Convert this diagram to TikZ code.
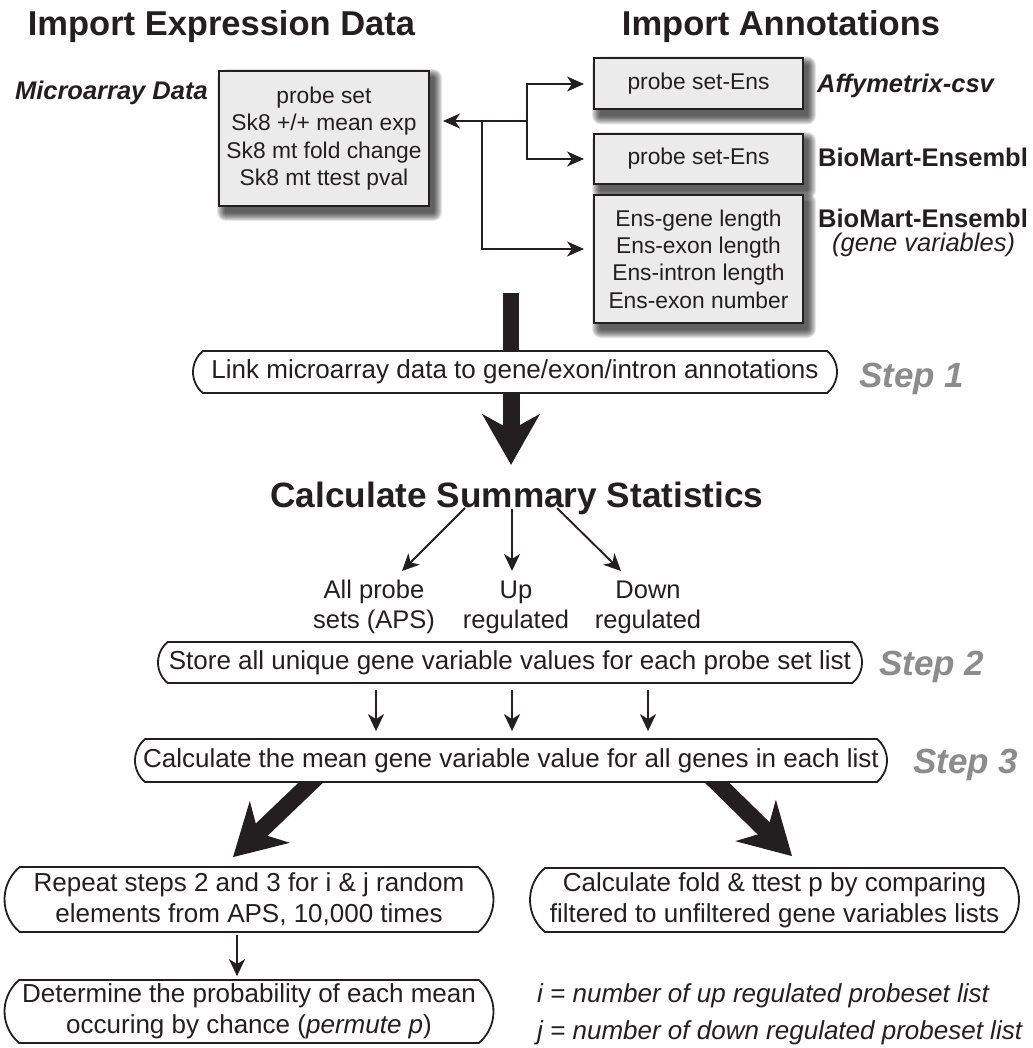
\documentclass[tikz,border=0pt]{standalone}
\usepackage{fontspec}
\setmainfont{Liberation Sans}
\usetikzlibrary{arrows.meta,shapes.misc,calc}
\pgfdeclarelayer{background}
\pgfsetlayers{background,main}
\definecolor{boxfill}{HTML}{EBEBEB}
\definecolor{stepgray}{HTML}{8C8C8C}
\definecolor{ink}{HTML}{231F20}
\begin{document}
\begin{tikzpicture}[x=1pt,y=-1pt,
  every node/.style={inner sep=0pt, text=ink},
  databox/.style={draw=ink, fill=boxfill, line width=2pt, align=center, font=\fontsize{22.8}{27.3}\selectfont},
  stepbox/.style={rounded rectangle, rounded rectangle arc length=100, draw=ink, line width=1.8pt, fill=white, align=center, font=\fontsize{26}{31}\selectfont},
  title/.style={font=\fontsize{34.5}{40}\selectfont\bfseries, anchor=base},
  srclabel/.style={font=\fontsize{25.5}{30}\selectfont\bfseries, anchor=base west},
  steplabel/.style={font=\fontsize{35}{40}\selectfont\bfseries\itshape, text=stepgray, anchor=base west},
  sublabel/.style={font=\fontsize{25.5}{30}\selectfont, align=center},
  note/.style={font=\fontsize{26}{31}\selectfont\itshape, anchor=base west},
  conn/.style={draw=ink, line width=2pt, -{Stealth[length=17pt,width=15pt,inset=5pt]}},
  arr/.style={draw=ink, line width=1.9pt, -{Stealth[length=17pt,width=16pt,inset=5pt]}},
  bigarr/.style={draw=ink, line width=17pt, -{Stealth[length=51pt,width=58pt,inset=16pt,line width=0pt]}}
]
\useasboundingbox (0,0) rectangle (1032,1048);

% titles
\node[title] (t1) at (221.5,36) {Import Expression Data};
\node[title] (t2) at (781,36) {Import Annotations};

% data boxes
\node[databox, minimum width=210pt, minimum height=135pt] (mbox) at (324,138.5)
  {probe set\\Sk8 +/+ mean exp\\Sk8 mt fold change\\Sk8 mt ttest pval};
\node[databox, minimum width=209pt, minimum height=51pt] (ab1) at (698.5,84) {probe set-Ens};
\node[databox, minimum width=209pt, minimum height=50pt] (ab2) at (698.5,159) {probe set-Ens};
\node[databox, minimum width=209pt, minimum height=128pt] (ab3) at (698.5,259)
  {Ens-gene length\\Ens-exon length\\Ens-intron length\\Ens-exon number};

\begin{pgfonlayer}{background}
\foreach \b in {mbox,ab1,ab2,ab3}{
  \foreach \i in {1,...,9}{
    \fill[black,opacity=0.1,rounded corners=\i pt] ($(\b.north west)+(8-\i,8-\i)$) rectangle ($(\b.south east)+(3+\i,5+\i)$);
  }
}
\end{pgfonlayer}

% source labels
\node[srclabel, anchor=base east] (mdl) at (208,100) {\itshape Microarray Data};
\node[srclabel] (l1) at (817,93) {\itshape Affymetrix-csv};
\node[srclabel] (l2) at (818,167) {BioMart-Ensembl};
\node[srclabel] (l3) at (818,228) {BioMart-Ensembl};
\node[srclabel, font=\fontsize{25.5}{30}\selectfont\itshape] (l4) at (832,252) {(gene variables)};

% bracket connectors
\coordinate (jA) at (527,121);
\coordinate (jB) at (482,121);
\coordinate (a3) at ($(ab3.west)+(0,-10)$);
\draw[conn, shorten >=13pt] (jA) -- (jA -| mbox.east);
\draw[conn, shorten >=9pt] (jA) -- (jA |- ab1.west) -- (ab1.west);
\draw[conn, shorten >=9pt] (jA) -- (jA |- ab2.west) -- (ab2.west);
\draw[conn, shorten >=9pt] (jB) -- (jB |- a3) -- (a3);

% step 1
\coordinate (barTop) at (511,293);
\node[stepbox, minimum width=644pt, minimum height=42pt] (o1) at (515,372)
  {Link microarray data to gene/exon/intron annotations};
\node[steplabel] (st1) at (859,387) {Step 1};
\node[title, font=\fontsize{35.2}{40}\selectfont\bfseries] (calc) at (517,507) {Calculate Summary Statistics};
\begin{pgfonlayer}{background}
\draw[draw=ink, line width=16pt] (barTop) -- ($(barTop |- o1.north)+(0,5)$);
\draw[bigarr] ($(o1.south -| barTop)+(0,-5)$) -- ($(o1.south -| barTop)+(0,71)$);
\end{pgfonlayer}

% three lists
\coordinate (s1) at (465,508); \coordinate (e1) at (402,571);
\coordinate (s2) at (512,509); \coordinate (e2) at (512,571);
\coordinate (s3) at (557,508); \coordinate (e3) at (621,571);
\draw[arr] (s1) -- (e1);
\draw[arr] (s2) -- (e2);
\draw[arr] (s3) -- (e3);
\node[sublabel] (lab1) at (374,607) {All probe\\sets (APS)};
\node[sublabel] (lab2) at (516,607) {Up\\regulated};
\node[sublabel] (lab3) at (648,607) {Down\\regulated};

% step 2 and 3
\node[stepbox, minimum width=704pt, minimum height=41pt] (o2) at (510,662.5)
  {Store all unique gene variable values for each probe set list};
\node[steplabel] (st2) at (879,675) {Step 2};
\node[stepbox, minimum width=752pt, minimum height=43pt] (o3) at (511,760.5)
  {Calculate the mean gene variable value for all genes in each list};
\node[steplabel] (st3) at (913,773) {Step 3};
\coordinate (c1) at (376,0);
\coordinate (c2) at (512,0);
\coordinate (c3) at (648,0);
\draw[arr, shorten <=6pt, shorten >=7pt] (o2.south -| c1) -- (o3.north -| c1);
\draw[arr, shorten <=6pt, shorten >=7pt] (o2.south -| c2) -- (o3.north -| c2);
\draw[arr, shorten <=6pt, shorten >=7pt] (o2.south -| c3) -- (o3.north -| c3);

% bottom
\node[stepbox, minimum width=489pt, minimum height=65pt] (o4) at (249,899.5)
  {Repeat steps 2 and 3 for i \& j random\\elements from APS, 10,000 times};
\node[stepbox, minimum width=489pt, minimum height=63pt] (o5) at (249,1011.5)
  {Determine the probability of each mean\\occuring by chance (\textit{permute p})};
\node[stepbox, minimum width=489pt, minimum height=64pt] (o6) at (774.5,900)
  {Calculate fold \& ttest p by comparing\\filtered to unfiltered gene variables lists};
\begin{pgfonlayer}{background}
\draw[bigarr] ($(o3.south)+(-190,-10)$) -- ($(o4.north)+(-16,-9)$);
\draw[bigarr] ($(o3.south)+(196,-10)$) -- ($(o6.north)+(17.5,-11)$);
\end{pgfonlayer}
\coordinate (c4) at (237,0);
\draw[arr, shorten <=2pt, shorten >=3pt] (o4.south -| c4) -- (o5.north -| c4);

\node[note] (n1) at (537,1002) {i = number of up regulated probeset list};
\node[note] (n2) at (537,1039) {j = number of down regulated probeset list};
\end{tikzpicture}
\end{document}
